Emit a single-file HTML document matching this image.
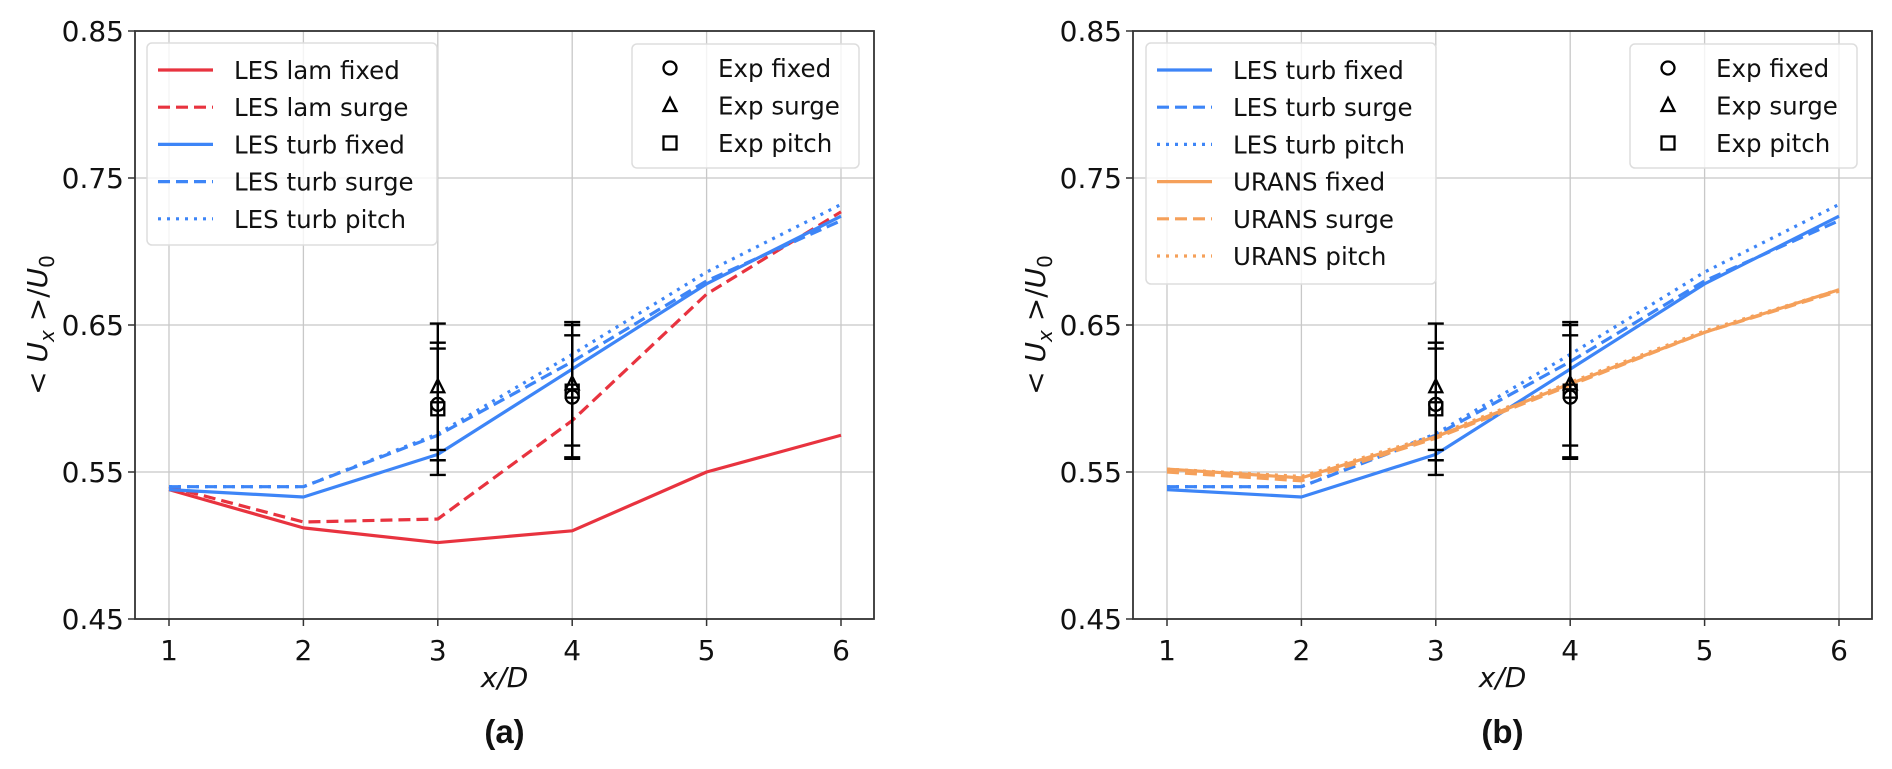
<!DOCTYPE html>
<html><head><meta charset="utf-8">
<style>
html,body{margin:0;padding:0;background:#fff;}
svg{display:block;font-family:"DejaVu Sans","Liberation Sans",sans-serif;}
</style></head>
<body>
<svg id="fig" width="1892" height="769" viewBox="0 0 1892 769" xmlns="http://www.w3.org/2000/svg"></svg>
<script>
const xCats = [1,2,3,4,5,6];
const yTicks = [0.45,0.55,0.65,0.75,0.85];
const yTickLabels = ["0.45","0.55","0.65","0.75","0.85"];
const lamFixed  = [0.538,0.512,0.502,0.510,0.550,0.575];
const lamSurge  = [0.540,0.516,0.518,0.585,0.671,0.727];
const turbFixed = [0.538,0.533,0.562,0.620,0.678,0.724];
const turbSurge = [0.540,0.540,0.575,0.625,0.680,0.721];
const turbPitch = [0.540,0.540,0.576,0.630,0.686,0.732];
const uransFixed = [0.552,0.546,0.574,0.610,0.645,0.674];
const uransSurge = [0.550,0.544,0.573,0.609,0.645,0.673];
const uransPitch = [0.552,0.547,0.575,0.611,0.646,0.674];
const expX = [3,4];
const expFixed = [0.596,0.601];
const expFixedErr = [0.038,0.042];
const expSurge = [0.608,0.610];
const expSurgeErr = [0.043,0.042];
const expPitch = [0.593,0.605];
const expPitchErr = [0.045,0.045];

const NS="http://www.w3.org/2000/svg";
const svg=document.getElementById('fig');
function el(tag,attrs,parent,text){const e=document.createElementNS(NS,tag);for(const k in attrs)e.setAttribute(k,attrs[k]);if(text!==undefined)e.textContent=text;(parent||svg).appendChild(e);return e;}

const RED="#e8333f",BLUE="#3d85f7",ORANGE="#f5a05a";
const DASH="12,6",DOT="3,6";
const Y0=31,Y1=619;
function yS(v){return Y0+(0.85-v)/0.4*(Y1-Y0);}

function panel(px0,px1,tick1,tick6,name,label,series,leftLegend,legendBox){
  const g=el('g',{});
  
  
  const xS=v=>tick1+(v-1)*(tick6-tick1)/5;
  xCats.forEach(v=>{const l=el('line',{x1:xS(v),x2:xS(v),y1:Y0,y2:Y1,stroke:'#c8c8c8','stroke-width':1.3},g);});
  yTicks.forEach(v=>{const l=el('line',{x1:px0,x2:px1,y1:yS(v),y2:yS(v),stroke:'#c8c8c8','stroke-width':1.3},g);});
  series.forEach(s=>{
    const pts=xCats.map((x,i)=>xS(x)+','+yS(s.data[i])).join(' ');
    const p=el('polyline',{points:pts,fill:'none',stroke:s.color,'stroke-width':3.2,'stroke-dasharray':s.dash||'none','stroke-linejoin':'round'},g);
    
    
  });
  const exps=[{d:expFixed,e:expFixedErr,m:'o',id:'exp-fixed'},{d:expSurge,e:expSurgeErr,m:'^',id:'exp-surge'},{d:expPitch,e:expPitchErr,m:'s',id:'exp-pitch'}];
  exps.forEach(ex=>{
    expX.forEach((x,i)=>{
      const cx=xS(x),top=yS(ex.d[i]+ex.e[i]),bot=yS(ex.d[i]-ex.e[i]);
      const eb=el('path',{d:`M${cx},${top}V${bot}M${cx-8},${top}H${cx+8}M${cx-8},${bot}H${cx+8}`,stroke:'#000','stroke-width':2.4,fill:'none'},g);
      
      
    });
  });
  exps.forEach(ex=>{
    expX.forEach((x,i)=>{
      const m=marker(g,ex.m,xS(x),yS(ex.d[i]));
      
      
    });
  });
  const fr=el('rect',{x:px0,y:Y0,width:px1-px0,height:Y1-Y0,fill:'none',stroke:'#333','stroke-width':1.8},g);
  
  xCats.forEach(v=>{el('line',{x1:xS(v),x2:xS(v),y1:Y1,y2:Y1+7,stroke:'#333','stroke-width':1.5},g);
    const t=el('text',{x:xS(v),y:Y1+41,'text-anchor':'middle','font-size':28,fill:'#111'},g,String(v));
    });
  yTicks.forEach((v,i)=>{el('line',{x1:px0-7,x2:px0,y1:yS(v),y2:yS(v),stroke:'#333','stroke-width':1.5},g);
    const t=el('text',{x:px0-11,y:yS(v)+10,'text-anchor':'end','font-size':28,fill:'#111'},g,yTickLabels[i]);
    });
  const cxm=(px0+px1)/2;
  const xl=el('text',{x:cxm,y:687,'text-anchor':'middle','font-size':28,'font-style':'italic',fill:'#111'},g,'x/D');
  
  const yl=el('text',{transform:`translate(${px0-88},${(Y0+Y1)/2}) rotate(-90)`,'text-anchor':'middle','font-size':28,fill:'#111'},g);
  
  el('tspan',{},yl,'< ');el('tspan',{'font-style':'italic'},yl,'U');el('tspan',{'font-size':20,'font-style':'italic',dy:7},yl,'x');el('tspan',{dy:-7},yl,' >/');el('tspan',{'font-style':'italic'},yl,'U');el('tspan',{'font-size':20,dy:7},yl,'0');
  const pl=el('text',{x:cxm,y:743,'text-anchor':'middle','font-size':33,'font-weight':'bold','font-family':'Liberation Sans, sans-serif',fill:'#111'},g,label);
  
  const lg=el('g',{},g);
  el('rect',{x:legendBox[0],y:43,width:legendBox[1],height:legendBox[2],rx:5,fill:'rgba(255,255,255,0.8)',stroke:'#ddd','stroke-width':1.5},lg);
  leftLegend.forEach((s,i)=>{
    const y=70+i*37.2;
    const e=el('g',{},lg);
    el('line',{x1:legendBox[0]+11,x2:legendBox[0]+66,y1:y,y2:y,stroke:s.color,'stroke-width':3.2,'stroke-dasharray':s.dash||'none'},e);
    el('text',{x:legendBox[0]+87,y:y+9,'font-size':24.5,fill:'#111'},e,s.label);
  });
  const bx=px1-242;
  const eg=el('g',{},g);
  el('rect',{x:bx,y:44,width:227,height:124,rx:5,fill:'rgba(255,255,255,0.8)',stroke:'#ddd','stroke-width':1.5},eg);
  [['o','Exp fixed'],['^','Exp surge'],['s','Exp pitch']].forEach((m,i)=>{
    const y=68+i*37.5;
    const e=el('g',{},eg);
    marker(e,m[0],bx+38,y);
    el('text',{x:bx+86,y:y+9,'font-size':24.5,fill:'#111'},e,m[1]);
  });
}
function marker(parent,m,x,y){
  const r=6.5;
  if(m==='o')return el('circle',{cx:x,cy:y,r:r,fill:'none',stroke:'#000','stroke-width':2.3},parent);
  if(m==='^')return el('polygon',{points:`${x},${y-r-1} ${x-r},${y+r-1} ${x+r},${y+r-1}`,fill:'none',stroke:'#000','stroke-width':2.3},parent);
  return el('rect',{x:x-r,y:y-r,width:2*r,height:2*r,fill:'none',stroke:'#000','stroke-width':2.3},parent);
}
const sA=[
 {id:'les-lam-fixed-line',label:'LES lam fixed',data:lamFixed,color:RED},
 {id:'les-lam-surge-line',label:'LES lam surge',data:lamSurge,color:RED,dash:DASH},
 {id:'les-turb-fixed-line',label:'LES turb fixed',data:turbFixed,color:BLUE},
 {id:'les-turb-surge-line',label:'LES turb surge',data:turbSurge,color:BLUE,dash:DASH},
 {id:'les-turb-pitch-line',label:'LES turb pitch',data:turbPitch,color:BLUE,dash:DOT}];
const sB=[
 {id:'urans-pitch-line',label:'URANS pitch',data:uransPitch,color:ORANGE,dash:DOT},
 {id:'les-turb-fixed-line',label:'LES turb fixed',data:turbFixed,color:BLUE},
 {id:'les-turb-surge-line',label:'LES turb surge',data:turbSurge,color:BLUE,dash:DASH},
 {id:'les-turb-pitch-line',label:'LES turb pitch',data:turbPitch,color:BLUE,dash:DOT},
 {id:'urans-fixed-line',label:'URANS fixed',data:uransFixed,color:ORANGE},
 {id:'urans-surge-line',label:'URANS surge',data:uransSurge,color:ORANGE,dash:DASH}];
const legB=[sB[1],sB[2],sB[3],sB[4],sB[5],sB[0]];
panel(135,874,169,841,'panel-a','(a)',sA,sA,[147,290,202]);
panel(1133,1872,1167,1839,'panel-b','(b)',sB,legB,[1146,290,241]);
</script>
</body></html>
